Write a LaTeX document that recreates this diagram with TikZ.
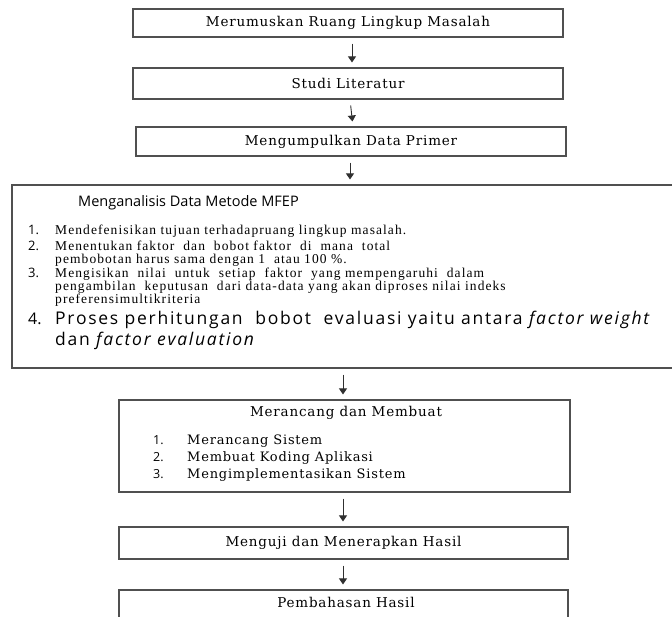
\documentclass[tikz,border=0pt]{standalone}
\usepackage{fontspec}
\setmainfont[LetterSpace=6]{DejaVu Serif}
\newfontfamily\itemfont[LetterSpace=8]{Liberation Serif}
\newfontfamily\headfont{Open Sans}
\newfontfamily\wideheadfont[LetterSpace=10]{Open Sans}
\usetikzlibrary{arrows.meta,positioning}
\definecolor{Frame}{HTML}{505050}
\definecolor{Arrow}{HTML}{303030}

\begin{document}
\begin{tikzpicture}[x=1pt,y=-1pt,
  box/.style={draw=Frame,line width=1.1pt,inner sep=0pt,
    font=\fontsize{13.5}{15}\selectfont},
  txt/.style={anchor=base west,inner sep=0pt},
  num/.style={anchor=base west,inner sep=0pt,font=\headfont\fontsize{13}{15}\selectfont},
  item/.style={anchor=base west,inner sep=0pt,font=\itemfont\fontsize{13.5}{15}\selectfont},
  arrow/.style={-{Triangle[width=8pt,length=6pt]},line width=0.9pt,Arrow,
    shorten <=6pt,shorten >=5pt}]
  \useasboundingbox (0,0) rectangle (672,616);

  \node[box,minimum width=430pt,minimum height=28pt] (ruang) at (348,23)
    {Merumuskan Ruang Lingkup Masalah};
  \node[box,minimum width=430pt,minimum height=31pt] (studi) at (348,83.5)
    {Studi Literatur};
  \node[box,minimum width=430pt,minimum height=29pt] (data) at (351,141.5)
    {Mengumpulkan Data Primer};
  \node[box,minimum width=662pt,minimum height=183pt] (mfep) at (343,276.5) {};
  \node[box,minimum width=451pt,minimum height=92pt] (rancang) at (344.5,446) {};
  \node[box,minimum width=449pt,minimum height=32pt] (uji) at (343.5,543)
    {Menguji dan Menerapkan Hasil};
  \node[box,minimum width=449pt,minimum height=40pt] (bahas) at (343.5,610) {};

  % isi kotak MFEP
  \node[txt,font=\headfont\fontsize{14.5}{16}\selectfont] (mfephead) at (78,206)
    {Menganalisis Data Metode MFEP};
  \node[num] (n1) at (28,234) {1.};
  \node[item] (t1) at (55,234) {Mendefenisikan tujuan terhadapruang lingkup masalah.};
  \node[num] (n2) at (28,250) {2.};
  \node[item] (t2) at (55,250) {Menentukan faktor \ dan \ bobot faktor \ di \ mana \ total};
  \node[item] (t2b) at (55,263) {pembobotan harus sama dengan 1 \ atau 100 \%.};
  \node[num] (n3) at (28,277) {3.};
  \node[item] (t3) at (55,277)
    {Mengisikan \ nilai \ untuk \ setiap \ faktor \ yang mempengaruhi \ dalam};
  \node[item] (t3b) at (55,290)
    {pengambilan \ keputusan \ dari data-data yang akan diproses nilai indeks};
  \node[item] (t3c) at (55,303) {preferensimultikriteria};
  \node[num,font=\headfont\fontsize{16}{18}\selectfont] (n4) at (28,324) {4.};
  \node[txt,font=\wideheadfont\fontsize{17.5}{19}\selectfont] (t4) at (55,324)
    {Proses perhitungan \ bobot \ evaluasi yaitu antara \textit{factor weight}};
  \node[txt,font=\wideheadfont\fontsize{17.5}{19}\selectfont] (t4b) at (55,345)
    {dan \textit{factor evaluation}};

  % isi kotak rancang
  \node[font=\fontsize{13.5}{15}\selectfont,inner sep=0pt] (rancanghead) at (346,413)
    {Merancang dan Membuat};
  \node[num,font=\headfont\fontsize{12.5}{14}\selectfont] (r1) at (153,444) {1.};
  \node[txt,font=\fontsize{13}{15}\selectfont] (rt1) at (187,444) {Merancang Sistem};
  \node[num,font=\headfont\fontsize{12.5}{14}\selectfont] (r2) at (153,461) {2.};
  \node[txt,font=\fontsize{13}{15}\selectfont] (rt2) at (187,461) {Membuat Koding Aplikasi};
  \node[num,font=\headfont\fontsize{12.5}{14}\selectfont] (r3) at (153,478) {3.};
  \node[txt,font=\fontsize{13}{15}\selectfont] (rt3) at (187,478) {Mengimplementasikan Sistem};

  \node[font=\fontsize{13.5}{15}\selectfont,inner sep=0pt] (bahastxt) at (346,602)
    {Pembahasan Hasil};

  \draw[arrow] ([xshift=4pt]ruang.south) -- ([xshift=4pt]studi.north);
  \draw[arrow] ([xshift=2pt]studi.south) -- ([xshift=2pt]data.north);
  \draw[arrow] ([xshift=-1pt]data.south) -- ([xshift=7pt]mfep.north);
  \draw[arrow] ([xshift=0pt]mfep.south) -- ([xshift=-1.5pt]rancang.north);
  \draw[arrow] ([xshift=-1.5pt]rancang.south) -- ([xshift=-0.5pt]uji.north);
  \draw[arrow] ([xshift=-0.5pt]uji.south) -- ([xshift=-0.5pt]bahas.north);
\end{tikzpicture}
\end{document}
